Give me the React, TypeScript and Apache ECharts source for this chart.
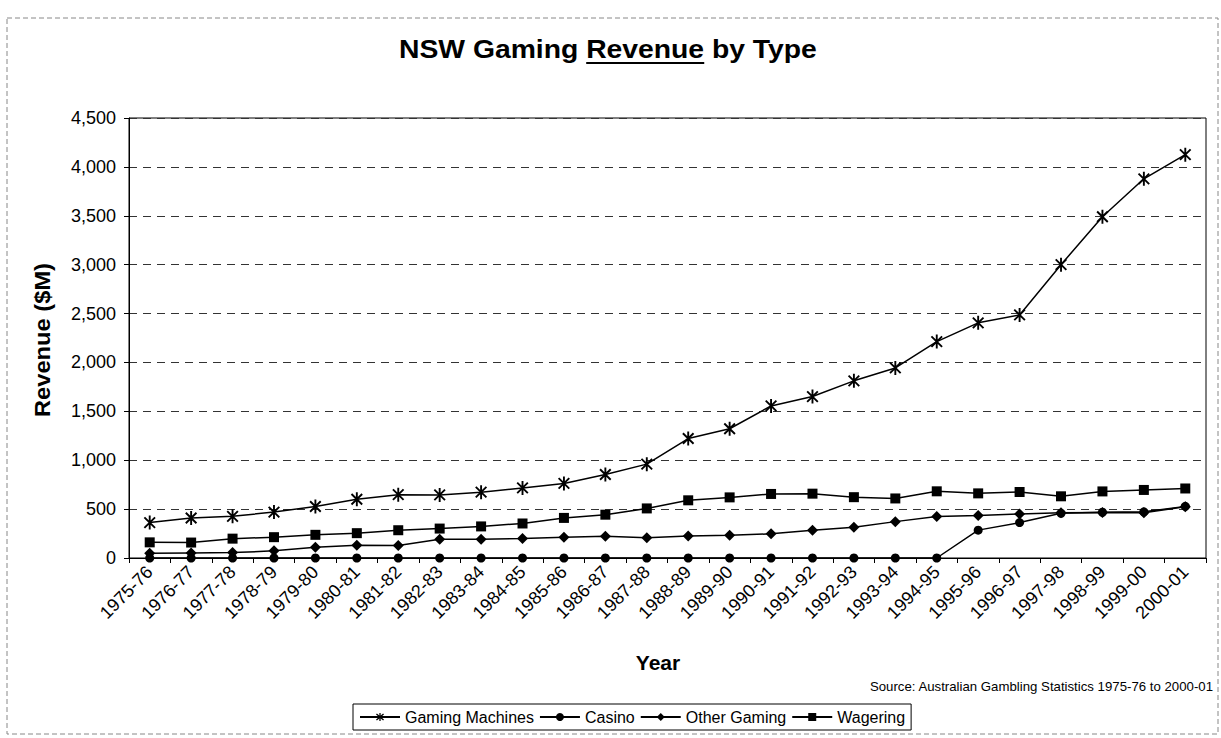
import React, { useEffect, useRef } from 'react';
import * as echarts from 'echarts';

const years = [
  '1975-76', '1976-77', '1977-78', '1978-79', '1979-80', '1980-81', '1981-82',
  '1982-83', '1983-84', '1984-85', '1985-86', '1986-87', '1987-88', '1988-89',
  '1989-90', '1990-91', '1991-92', '1992-93', '1993-94', '1994-95', '1995-96',
  '1996-97', '1997-98', '1998-99', '1999-00', '2000-01',
];

const gamingMachines = [
  362, 409, 426, 470, 527, 601, 648, 645, 673, 717, 763, 854, 960, 1222,
  1322, 1555, 1651, 1812, 1944, 2213, 2405, 2486, 3000, 3490, 3878, 4125,
];

const casino = [
  0, 0, 0, 0, 0, 0, 0, 0, 0, 0, 0, 0, 0, 0,
  0, 0, 0, 0, 0, 0, 285, 362, 457, 468, 472, 528,
];

const otherGaming = [
  48, 52, 55, 73, 110, 131, 128, 192, 191, 200, 213, 222, 206, 226,
  233, 247, 285, 315, 372, 424, 435, 451, 463, 466, 463, 524,
];

const wagering = [
  160, 158, 198, 213, 237, 254, 284, 301, 323, 353, 410, 443, 507, 590,
  620, 655, 658, 622, 609, 682, 661, 675, 631, 681, 696, 711,
];

const seriesNames = ['Gaming Machines', 'Casino', 'Other Gaming', 'Wagering'];
const yMin = 0;
const yMax = 4500;
const yStep = 500;

const titleText = 'NSW Gaming Revenue by Type';
const titlePre = 'NSW Gaming ';
const titleUnderlined = 'Revenue';
const yAxisTitle = 'Revenue ($M)';
const xAxisTitle = 'Year';
const sourceText = 'Source: Australian Gambling Statistics 1975-76 to 2000-01';

const FONT = '"Liberation Sans", Arial, Helvetica, sans-serif';

const ASTERISK =
  'path://M-0.8,-6L0.8,-6L0.8,6L-0.8,6Z' +
  'M-3.934,-5.066L5.066,3.934L3.934,5.066L-5.066,-3.934Z' +
  'M-5.066,3.934L3.934,-5.066L5.066,-3.934L-3.934,5.066Z';

function measure(text: string, font: string): number {
  const c = document.createElement('canvas').getContext('2d');
  if (!c) return text.length * 10;
  c.font = font;
  return c.measureText(text).width;
}

export default function App() {
  const ref = useRef<HTMLDivElement>(null);

  useEffect(() => {
    if (!ref.current) return;
    const chart = echarts.init(ref.current, undefined, { renderer: 'svg' });

    const titleFont = 'bold 26px ' + FONT;
    const titleX = 399;
    const titleWidth = 418;
    const s = titleWidth / measure(titleText, titleFont);
    const preW = measure(titlePre, titleFont) * s;
    const revW = measure(titleUnderlined, titleFont) * s;

    const yTitleFont = 'bold 22px ' + FONT;
    const yTitleScale = 154 / measure(yAxisTitle, yTitleFont);

    const srcFont = '12.5px "Liberation Sans Narrow", ' + FONT;
    const srcScale = 344 / measure(sourceText, srcFont);

    const mkLine = (name: string, data: number[], symbol: string, size: any) => ({
      name,
      type: 'line',
      data,
      symbol,
      symbolSize: size,
      showAllSymbol: true,
      lineStyle: { color: '#000', width: 1.5 },
      itemStyle: { color: '#000' },
      emphasis: { disabled: true },
    });

    chart.setOption({
      animation: false,
      backgroundColor: '#fff',
      textStyle: { fontFamily: FONT },
      grid: {
        left: 129,
        right: 15,
        top: 118,
        bottom: 180,
        show: true,
        borderColor: '#000',
        borderWidth: 1,
        backgroundColor: 'transparent',
        outerBoundsMode: 'none',
      },
      legend: {
        data: seriesNames,
        left: 353,
        top: 704,
        orient: 'horizontal',
        itemWidth: 40,
        itemHeight: 10,
        itemGap: 5,
        padding: [5, 6],
        borderColor: '#000',
        borderWidth: 1,
        textStyle: { fontSize: 16, color: '#000', fontFamily: FONT },
      },
      xAxis: {
        type: 'category',
        data: years,
        boundaryGap: true,
        axisLine: { lineStyle: { color: '#000', width: 1 } },
        axisTick: { show: true, length: 5, lineStyle: { color: '#000' } },
        axisLabel: {
          rotate: 45,
          interval: 0,
          fontSize: 18,
          color: '#000',
          fontFamily: FONT,
          margin: 11,
        },
        splitLine: { show: false },
      },
      yAxis: {
        type: 'value',
        min: yMin,
        max: yMax,
        interval: yStep,
        axisLine: { show: true, lineStyle: { color: '#000', width: 1 } },
        axisTick: { show: true, length: 5, lineStyle: { color: '#000' } },
        axisLabel: {
          fontSize: 18,
          color: '#000',
          fontFamily: FONT,
          margin: 13,
          formatter: (v: number) => v.toLocaleString('en-US'),
        },
        splitLine: { lineStyle: { color: '#333', type: [8, 6], width: 1 } },
      },
      series: [
        mkLine(seriesNames[0], gamingMachines, ASTERISK, [12, 14]),
        mkLine(seriesNames[1], casino, 'circle', 9),
        mkLine(seriesNames[2], otherGaming, 'diamond', 11),
        mkLine(seriesNames[3], wagering, 'rect', 10),
      ],
      graphic: [
        {
          type: 'rect',
          silent: true,
          z: -10,
          shape: { x: 7, y: 18, width: 1211, height: 716 },
          style: { fill: 'none', stroke: '#888', lineWidth: 1, lineDash: [5, 3] },
        },
        {
          type: 'text',
          x: titleX,
          y: 49,
          scaleX: s,
          style: {
            text: titleText,
            font: titleFont,
            fill: '#000',
            align: 'left',
            verticalAlign: 'middle',
            textAlign: 'left',
            textVerticalAlign: 'middle',
          },
        },
        {
          type: 'line',
          shape: { x1: titleX + preW, y1: 63, x2: titleX + preW + revW, y2: 63 },
          style: { stroke: '#000', lineWidth: 2 },
        },
        {
          type: 'text',
          x: 42,
          y: 340,
          rotation: Math.PI / 2,
          scaleX: yTitleScale,
          style: {
            text: yAxisTitle,
            font: yTitleFont,
            fill: '#000',
            align: 'center',
            verticalAlign: 'middle',
            textAlign: 'center',
            textVerticalAlign: 'middle',
          },
        },
        {
          type: 'text',
          x: 658,
          y: 662,
          style: {
            text: xAxisTitle,
            font: 'bold 21px ' + FONT,
            fill: '#000',
            align: 'center',
            verticalAlign: 'middle',
            textAlign: 'center',
            textVerticalAlign: 'middle',
          },
        },
        {
          type: 'text',
          x: 1213,
          y: 687,
          scaleX: srcScale,
          style: {
            text: sourceText,
            font: srcFont,
            fill: '#000',
            align: 'right',
            verticalAlign: 'middle',
            textAlign: 'right',
            textVerticalAlign: 'middle',
          },
        },
      ],
    });

    return () => chart.dispose();
  }, []);

  return (
    <div
      ref={ref}
      style={{ position: 'fixed', left: 0, top: 0, width: 1221, height: 738, background: '#fff' }}
    />
  );
}
